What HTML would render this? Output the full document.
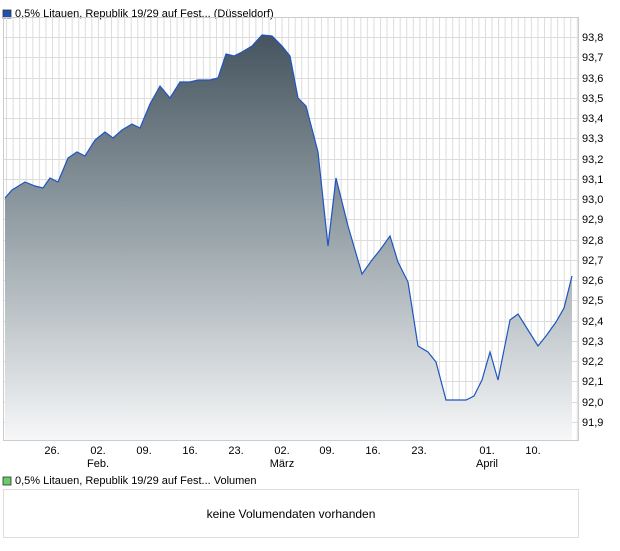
<!DOCTYPE html>
<html><head><meta charset="utf-8"><style>
body{margin:0;background:#fff;font-family:"Liberation Sans",sans-serif;}
svg text{font-family:"Liberation Sans",sans-serif;font-size:11px;fill:#000;}
</style></head><body>
<svg width="620" height="546" xmlns="http://www.w3.org/2000/svg">
<defs>
<linearGradient id="g" x1="0" y1="0" x2="0" y2="1">
<stop offset="0" stop-color="#45545f"/><stop offset="0.5" stop-color="#9aa5ab"/><stop offset="1" stop-color="#f6f7f8"/>
</linearGradient>
<pattern id="vg" x="52" y="0" width="6.56" height="546" patternUnits="userSpaceOnUse"><rect x="0" y="0" width="1" height="546" fill="#dcdcdc"/></pattern>
</defs>
<rect x="3" y="10" width="8" height="8" fill="#1f4fb0" stroke="#333" stroke-width="0.8"/>
<text x="15" y="17">0,5% Litauen, Republik 19/29 auf Fest... (Düsseldorf)</text>
<rect x="3" y="17" width="575" height="423" fill="url(#vg)"/>
<g stroke="#dcdcdc" stroke-width="1">
<line x1="3" x2="578" y1="37.5" y2="37.5"/><line x1="3" x2="578" y1="57.5" y2="57.5"/><line x1="3" x2="578" y1="78.5" y2="78.5"/><line x1="3" x2="578" y1="98.5" y2="98.5"/><line x1="3" x2="578" y1="118.5" y2="118.5"/><line x1="3" x2="578" y1="138.5" y2="138.5"/><line x1="3" x2="578" y1="159.5" y2="159.5"/><line x1="3" x2="578" y1="179.5" y2="179.5"/><line x1="3" x2="578" y1="199.5" y2="199.5"/><line x1="3" x2="578" y1="219.5" y2="219.5"/><line x1="3" x2="578" y1="240.5" y2="240.5"/><line x1="3" x2="578" y1="260.5" y2="260.5"/><line x1="3" x2="578" y1="280.5" y2="280.5"/><line x1="3" x2="578" y1="300.5" y2="300.5"/><line x1="3" x2="578" y1="321.5" y2="321.5"/><line x1="3" x2="578" y1="341.5" y2="341.5"/><line x1="3" x2="578" y1="361.5" y2="361.5"/><line x1="3" x2="578" y1="381.5" y2="381.5"/><line x1="3" x2="578" y1="402.5" y2="402.5"/><line x1="3" x2="578" y1="422.5" y2="422.5"/>
</g>
<polygon fill="url(#g)" points="5,440 5,198 12,190 25,182 35,186 43,188 50,178 58,182 68,158 77,152 85,156 95,140 105,132 113,138 122,130 132,124 140,128 150,104 160,86 170,98 180,82 190,82 198,80 210,80 218,78 226,54 234,56 242,52 252,46 262,35 272,36 282,46 290,56 298,98 306,106 318,152 328,246 336,178 348,226 362,274 372,260 380,250 390,236 398,262 408,282 418,346 428,352 436,362 446,400 456,400 466,400 474,396 482,380 490,352 498,380 510,320 518,314 528,330 538,346 546,336 556,322 564,308 572,276 572,440"/>
<polyline fill="none" stroke="#1f55c0" stroke-width="1.2" points="5,198 12,190 25,182 35,186 43,188 50,178 58,182 68,158 77,152 85,156 95,140 105,132 113,138 122,130 132,124 140,128 150,104 160,86 170,98 180,82 190,82 198,80 210,80 218,78 226,54 234,56 242,52 252,46 262,35 272,36 282,46 290,56 298,98 306,106 318,152 328,246 336,178 348,226 362,274 372,260 380,250 390,236 398,262 408,282 418,346 428,352 436,362 446,400 456,400 466,400 474,396 482,380 490,352 498,380 510,320 518,314 528,330 538,346 546,336 556,322 564,308 572,276"/>
<rect x="3.5" y="17.5" width="575" height="423" fill="none" stroke="#ccc"/>
<g>
<text x="582" y="41">93,8</text><text x="582" y="61">93,7</text><text x="582" y="82">93,6</text><text x="582" y="102">93,5</text><text x="582" y="122">93,4</text><text x="582" y="142">93,3</text><text x="582" y="163">93,2</text><text x="582" y="183">93,1</text><text x="582" y="203">93,0</text><text x="582" y="223">92,9</text><text x="582" y="244">92,8</text><text x="582" y="264">92,7</text><text x="582" y="284">92,6</text><text x="582" y="304">92,5</text><text x="582" y="325">92,4</text><text x="582" y="345">92,3</text><text x="582" y="365">92,2</text><text x="582" y="385">92,1</text><text x="582" y="406">92,0</text><text x="582" y="426">91,9</text>
</g>
<g text-anchor="middle">
<text x="52" y="454">26.</text><text x="98" y="454">02.</text><text x="98" y="467">Feb.</text><text x="144" y="454">09.</text><text x="190" y="454">16.</text><text x="236" y="454">23.</text><text x="282" y="454">02.</text><text x="282" y="467">März</text><text x="327" y="454">09.</text><text x="373" y="454">16.</text><text x="419" y="454">23.</text><text x="487" y="454">01.</text><text x="487" y="467">April</text><text x="533" y="454">10.</text>
</g>
<rect x="3" y="477" width="8" height="8" fill="#66cc66" stroke="#333" stroke-width="0.8"/>
<text x="15" y="484">0,5% Litauen, Republik 19/29 auf Fest... Volumen</text>
<rect x="3.5" y="489.5" width="575" height="48" fill="#fff" stroke="#ddd"/>
<text x="291" y="518" text-anchor="middle" style="font-size:12px">keine Volumendaten vorhanden</text>
</svg>
</body></html>
